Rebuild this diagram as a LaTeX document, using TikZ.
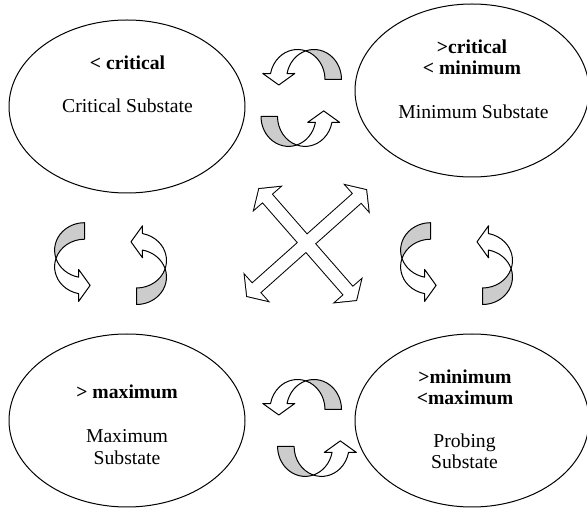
\documentclass[tikz,border=0pt]{standalone}
\usepackage{fontspec}
\setmainfont{Liberation Serif}
\usetikzlibrary{shapes.geometric}

\tikzset{
  substate/.style={draw, ellipse, line width=0.6pt, minimum width=141.6pt, minimum height=103.8pt, inner sep=0pt},
  boundtext/.style={font=\fontsize{11.8}{14}\selectfont\bfseries, anchor=base, inner sep=0pt},
  statetext/.style={font=\fontsize{11.8}{14}\selectfont, anchor=base, inner sep=0pt},
  pics/turnarrow/.style={code={
    \begin{scope}[x=0.6pt, y=0.6pt, line width=0.6pt, line join=round]
      \filldraw[fill=gray!40] (8.23,28.61) arc[start angle=107.5, end angle=0, x radius=27.5, y radius=30]
        -- (27.5,0) arc[start angle=0, end angle=72.5, x radius=27.5, y radius=30] -- cycle;
      \filldraw[fill=white] (8.27,28.61) arc[start angle=72.5, end angle=168.5, x radius=27.5, y radius=30]
        -- (-34.7,6) -- (-18.7,-5.5) -- (-2.7,6) -- (-10.45,5.98)
        arc[start angle=168.5, end angle=107.5, x radius=27.5, y radius=30] -- cycle;
    \end{scope}
  }}
}

\begin{document}
\begin{tikzpicture}[x=0.6pt, y=-0.6pt, color = {black}]
    \useasboundingbox (0,0) rectangle (587,509);
    \node[substate] (crit) at (127,106.5) {};
    \node[boundtext] (critlo) at (127.5,69.5) {< critical};
    \node[statetext] (critname) at (127.5,112.5) {Critical Substate};
    \node[substate, minimum width=140.4pt] (mini) at (472,90.5) {};
    \node[boundtext] (minilo) at (472,53.5) {>critical};
    \node[boundtext] (minihi) at (472,75) {< minimum};
    \node[statetext] (mininame) at (473.5,118.5) {Minimum Substate};
    \node[substate] (maxi) at (127,420.5) {};
    \node[boundtext] (maxilo) at (127,399) {> maximum};
    \node[statetext] (maxiname) at (127,443) {Maximum};
    \node[statetext] (maxisub) at (127,464.5) {Substate};
    \node[substate, minimum width=140.4pt] (prob) at (472,420.5) {};
    \node[boundtext] (problo) at (465,383.5) {>minimum};
    \node[boundtext] (probhi) at (465,404.5) {<maximum};
    \node[statetext] (probname) at (464.5,448) {Probing};
    \node[statetext] (probsub) at (464.5,469) {Substate};

    \pic at (297.5,79.5) {turnarrow};
    \pic[rotate=180] at (305,116.4) {turnarrow};
    \pic at (297.5,409.5) {turnarrow};
    \pic[rotate=180] at (321.6,446.4) {turnarrow};
    \pic[rotate=90] at (84.6,266.7) {turnarrow};
    \pic[rotate=-90] at (136.5,260.5) {turnarrow};
    \pic[rotate=90] at (430.6,266.7) {turnarrow};
    \pic[rotate=-90] at (482.5,260.5) {turnarrow};

    \begin{scope}[shift={(306.5,243.2)}, x=0.6pt, y=0.6pt, line join=miter]
      \foreach \ang/\lb/\lf in {-48.85/71.9/75.5, 41.7/79.5/79.9}
        \draw[line width=1.2pt, rotate=\ang] (-\lb,0) -- (-\lb+12,17) -- (-\lb+12,6) -- (\lf-12,6)
          -- (\lf-12,17) -- (\lf,0) -- (\lf-12,-17) -- (\lf-12,-6) -- (-\lb+12,-6) -- (-\lb+12,-17) -- cycle;
      \foreach \ang/\lb/\lf in {-48.85/71.9/75.5, 41.7/79.5/79.9}
        \fill[white, rotate=\ang] (-\lb,0) -- (-\lb+12,17) -- (-\lb+12,6) -- (\lf-12,6)
          -- (\lf-12,17) -- (\lf,0) -- (\lf-12,-17) -- (\lf-12,-6) -- (-\lb+12,-6) -- (-\lb+12,-17) -- cycle;
    \end{scope}
\end{tikzpicture}
\end{document}
